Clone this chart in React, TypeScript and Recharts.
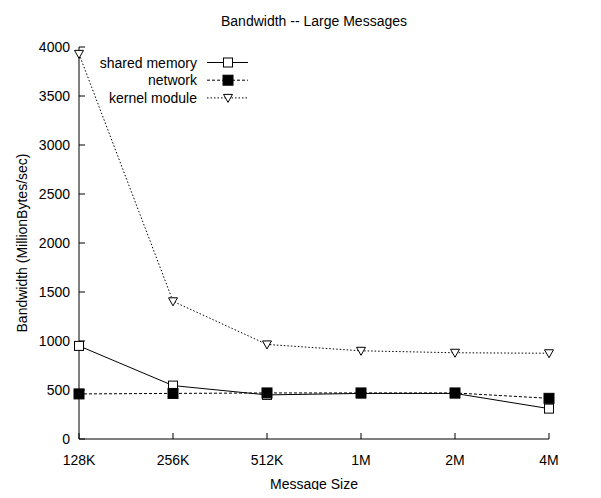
import { LineChart, Line, XAxis, YAxis, Legend, Label } from 'recharts';

const sizes = ['128K', '256K', '512K', '1M', '2M', '4M'];
const sharedMemory = [950, 545, 450, 465, 465, 310];
const network = [460, 465, 470, 470, 470, 415];
const kernelModule = [3930, 1405, 965, 900, 880, 875];
const yTicks = [0, 500, 1000, 1500, 2000, 2500, 3000, 3500, 4000];

const data = sizes.map((size, i) => ({
  size,
  shared: sharedMemory[i],
  network: network[i],
  kernel: kernelModule[i],
}));

const FONT = '"Liberation Sans", Arial, Helvetica, sans-serif';

// gnuplot-style point markers
function OpenSquare(props: any) {
  const { cx, cy, index } = props;
  return <rect key={'s' + index} x={cx - 4.5} y={cy - 4.5} width={9} height={9} fill="#fff" stroke="#000" strokeWidth={1} />;
}

function FilledSquare(props: any) {
  const { cx, cy, index } = props;
  return <rect key={'n' + index} x={cx - 5} y={cy - 5} width={10} height={10} fill="#000" stroke="#000" />;
}

function DownTriangle(props: any) {
  const { cx, cy, index } = props;
  return (
    <path
      key={'k' + index}
      d={`M${cx - 4.5},${cy - 3.5} L${cx + 4.5},${cy - 3.5} L${cx},${cy + 4.5} Z`}
      fill="#fff"
      stroke="#000"
      strokeWidth={1}
    />
  );
}

const legendRows = [
  { name: 'shared memory', dash: undefined, marker: 'open' },
  { name: 'network', dash: '3 2', marker: 'filled' },
  { name: 'kernel module', dash: '1.5 2', marker: 'tri' },
];

function GnuLegend() {
  return (
    <svg width={260} height={110} style={{ display: 'block' }}>
      {legendRows.map((r, i) => {
        const y = 62.5 + i * 17.7;
        return (
          <g key={r.name}>
            <text x={197} y={y + 5} textAnchor="end" fontSize={14} fontFamily={FONT} fill="#000">
              {r.name}
            </text>
            <line x1={207} x2={248} y1={y} y2={y} stroke="#000" strokeDasharray={r.dash} />
            {r.marker === 'open' && <OpenSquare cx={228} cy={y} index={i} />}
            {r.marker === 'filled' && <FilledSquare cx={228} cy={y} index={i} />}
            {r.marker === 'tri' && <DownTriangle cx={228} cy={y} index={i} />}
          </g>
        );
      })}
    </svg>
  );
}

const textBox = {
  position: 'absolute' as const,
  textAlign: 'center' as const,
  fontFamily: FONT,
  fontSize: 14,
  color: '#000',
  lineHeight: '16px',
  whiteSpace: 'nowrap' as const,
};

export default function App() {
  const tick = { fill: '#000', fontSize: 14, fontFamily: FONT };
  return (
    <div style={{ position: 'relative', margin: -8, width: 601, height: 498, background: '#fff', overflow: 'hidden' }}>
      <div style={{ ...textBox, left: 164, top: 13, width: 300 }}>Bandwidth -- Large Messages</div>
      <div style={{ ...textBox, left: 164, top: 476, width: 300, zIndex: 2 }}>Message Size</div>
      <LineChart width={601} height={498} data={data} margin={{ top: 47, right: 52, bottom: 0, left: 0 }}>
        <XAxis
          dataKey="size"
          height={59}
          tick={tick}
          tickSize={-6}
          tickMargin={22}
          axisLine={{ stroke: '#000' }}
          tickLine={{ stroke: '#000' }}
          interval={0}
        />
        <XAxis
          xAxisId="top"
          dataKey="size"
          orientation="top"
          height={0}
          tickSize={-6}
          tickFormatter={() => ''}
          axisLine={{ stroke: '#000' }}
          tickLine={{ stroke: '#000' }}
          interval={0}
        />
        <YAxis
          width={79}
          type="number"
          domain={[0, 4000]}
          ticks={yTicks}
          tick={tick}
          tickSize={-6}
          tickMargin={15}
          axisLine={{ stroke: '#000' }}
          tickLine={{ stroke: '#000' }}
          interval={0}
        >
          <Label
            value="Bandwidth (MillionBytes/sec)"
            angle={-90}
            position="insideLeft"
            offset={22}
            style={{ textAnchor: 'middle', fontSize: 14, fontFamily: FONT, fill: '#000' }}
          />
        </YAxis>
        <YAxis
          yAxisId="right"
          orientation="right"
          width={0}
          type="number"
          domain={[0, 4000]}
          ticks={yTicks}
          tickSize={-6}
          tickFormatter={() => ''}
          axisLine={{ stroke: '#000' }}
          tickLine={{ stroke: '#000' }}
          interval={0}
        />
        <Legend
          layout="vertical"
          align="center"
          verticalAlign="middle"
          wrapperStyle={{ left: 0, top: 0, width: 260, height: 110 }}
          content={() => <GnuLegend />}
        />
        <Line
          dataKey="shared"
          name="shared memory"
          stroke="#000"
          strokeWidth={1}
          dot={OpenSquare}
          isAnimationActive={false}
        />
        <Line
          dataKey="network"
          name="network"
          stroke="#000"
          strokeWidth={1}
          strokeDasharray="3 2"
          dot={FilledSquare}
          isAnimationActive={false}
        />
        <Line
          dataKey="kernel"
          name="kernel module"
          stroke="#000"
          strokeWidth={1}
          strokeDasharray="1.5 2"
          dot={DownTriangle}
          isAnimationActive={false}
        />
      </LineChart>
    </div>
  );
}
